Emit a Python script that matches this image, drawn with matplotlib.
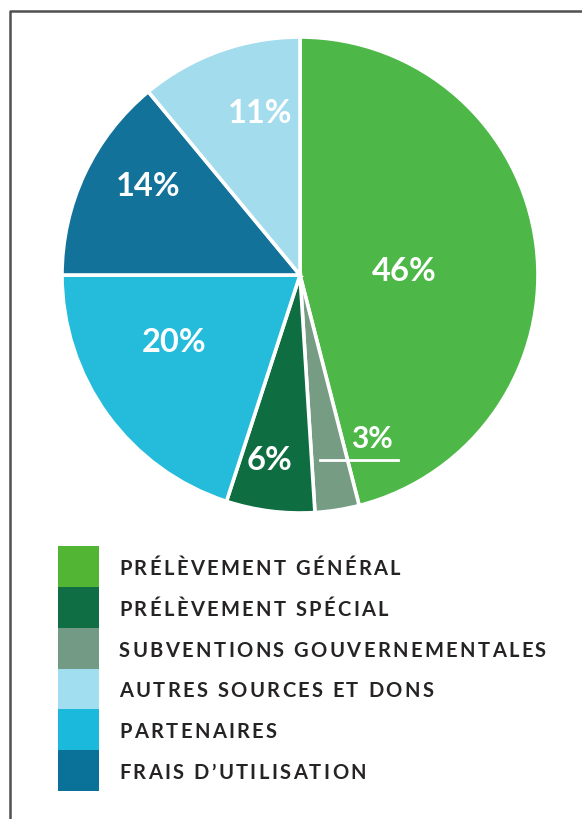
import matplotlib
matplotlib.use("Agg")
import matplotlib.pyplot as plt
from matplotlib.patches import Rectangle
from matplotlib.lines import Line2D
from matplotlib import font_manager
from matplotlib.ft2font import FT2Font
import numpy as np

# pie data, clockwise from 12 o'clock
pie_values = [46, 3, 6, 20, 14, 11]
pie_colors = ["#4db848", "#769c84", "#0e6e42", "#25bcdc", "#137299", "#a3dcec"]
pie_labels = ["46%", "3%", "6%", "20%", "14%", "11%"]
# radial distance and small angle nudge (deg) for each label
label_dist = [0.44, None, 0.79, 0.60, 0.74, 0.70]
label_nudge = [-5.5, 0, -2, -8, -5, -6]

# legend entries
legend_names = [
    "PRÉLÈVEMENT GÉNÉRAL",
    "PRÉLÈVEMENT SPÉCIAL",
    "SUBVENTIONS GOUVERNEMENTALES",
    "AUTRES SOURCES ET DONS",
    "PARTENAIRES",
    "FRAIS D\u2019UTILISATION",
]
legend_colors = ["#52b534", "#0f6e43", "#739a84", "#a1dff0", "#1bb9db", "#0a7299"]

W, H = 582, 819
DPI = 100
fig = plt.figure(figsize=(W / DPI, H / DPI), dpi=DPI)
fig.patch.set_facecolor("white")

FONT = ["Lato", "DejaVu Sans"]

# pie: centre (300, 275) px, radius 238 px
cx, cy, r = 300, 275, 238
ax = fig.add_axes([(cx - r) / W, (H - cy - r) / H, 2 * r / W, 2 * r / H])
wedges, _ = ax.pie(pie_values, colors=pie_colors, startangle=90, counterclock=False,
                   radius=1, wedgeprops=dict(edgecolor="white", linewidth=2.6))
ax.set_xlim(-1, 1)
ax.set_ylim(-1, 1)
ax.set_aspect("equal")
ax.axis("off")

for w, lab, d, nd in zip(wedges, pie_labels, label_dist, label_nudge):
    mid = np.deg2rad((w.theta1 + w.theta2) / 2 + nd)
    if d is None:
        # small slice: label placed outside to the right, underlined
        ax.text(0.30, -0.69, lab, color="white", fontsize=21.5, fontweight="bold",
                family=FONT, ha="center", va="center")
        ax.plot([0.084, 0.41], [-0.777, -0.777], color="white", lw=2)
        continue
    ax.text(d * np.cos(mid), d * np.sin(mid), lab, color="white", fontsize=23.5,
            fontweight="bold", family=FONT, ha="center", va="center")

# legend, axes in pixel units
lx0, lx1, ly0, ly1 = 58, 580, 546, 791
sq_w = 41
text_x = 119 - lx0
text_right = 546 - lx0          # right edge of the longest label
leg_size = 14.5                 # pt

lax = fig.add_axes([lx0 / W, (H - ly1) / H, (lx1 - lx0) / W, (ly1 - ly0) / H])
lax.set_xlim(0, lx1 - lx0)
lax.set_ylim(len(legend_names), 0)
lax.axis("off")

# letter-spaced text: glyph advances from the font itself
fprop = font_manager.FontProperties(family=FONT, weight="bold")
ft = FT2Font(font_manager.findfont(fprop))
ft.set_size(leg_size, DPI)


def advances(s):
    out = []
    for ch in s:
        g = ft.load_char(ord(ch))
        out.append(g.linearHoriAdvance / 65536.0)
    return out


longest = max(legend_names, key=lambda s: sum(advances(s)))
track = (text_right - text_x - sum(advances(longest))) / (len(longest) - 1)

for i, (name, col) in enumerate(zip(legend_names, legend_colors)):
    lax.add_patch(Rectangle((0, i), sq_w, 1, facecolor=col, edgecolor="none"))
    x = text_x
    for ch, adv in zip(name, advances(name)):
        lax.text(x, i + 0.71, ch, color="#262324", fontsize=leg_size,
                 fontweight="bold", family=FONT, ha="left", va="baseline")
        x += adv + track

# outer frame (left and top edges)
fig.add_artist(Line2D([9.5 / W, 9.5 / W, 1.0], [0.0, 1 - 11 / H, 1 - 11 / H],
                      transform=fig.transFigure, color="#505050", lw=1.8))

fig.savefig("out.png", dpi=DPI, facecolor="white")
